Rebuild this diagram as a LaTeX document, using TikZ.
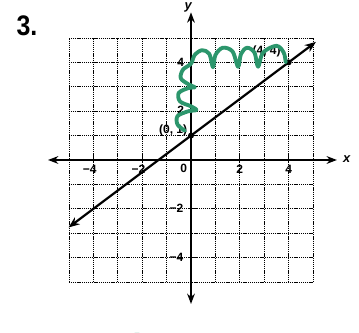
\documentclass[tikz,border=0pt]{standalone}
\usepackage{fontspec}
\setmainfont{Liberation Sans}
\usetikzlibrary{arrows.meta}
\definecolor{hlgreen}{RGB}{44,150,108}
\begin{document}
\begin{tikzpicture}[x=1cm,y=1cm,
  gridline/.style={black, line width=1.1pt, dash pattern=on 1.3pt off 0.9pt},
  axisline/.style={black, line width=2pt, {Stealth[length=12pt,width=9pt]}-{Stealth[length=12pt,width=9pt]}},
  graphline/.style={black, line width=2.6pt, {Stealth[length=13pt,width=10pt]}-{Stealth[length=13pt,width=10pt]}},
  tickmark/.style={black, line width=1.4pt},
  ticklabel/.style={font=\bfseries\fontsize{14}{14}\selectfont, inner sep=0pt},
  ptlabel/.style={font=\bfseries\fontsize{14}{14}\selectfont, inner sep=0pt},
  dot/.style={circle, fill=black, inner sep=0pt, minimum size=7pt},
  squiggle/.style={hlgreen, line width=4.5pt, line cap=round, line join=round}
]
\useasboundingbox (-7.828,-7.090) rectangle (6.885,6.557);

% number
\node[font=\bfseries\fontsize{33}{33}\selectfont, xscale=0.88] (num) at (-6.72,5.52) {3.};

% grid
\foreach \i in {-5,...,5} {
  \draw[gridline] (\i,-5) -- (\i,5);
  \draw[gridline] (-5,\i) -- (5,\i);
}

% axes
\coordinate (xl) at (-5.86,0);
\coordinate (xr) at (5.98,0);
\coordinate (yb) at (0,-5.9);
\coordinate (yt) at (0,6.05);
\draw[axisline] (xl) -- (xr);
\draw[axisline] (yb) -- (yt);
\node[font=\bfseries\itshape\fontsize{15}{15}\selectfont] (xlab) at (6.38,0.02) {x};
\node[font=\bfseries\itshape\fontsize{15}{15}\selectfont, anchor=north] (ylab) at (-0.12,6.55) {y};

% ticks
\foreach \i in {-4,-2,2,4} {
  \draw[tickmark] (\i,-0.12) -- (\i,0.12);
  \draw[tickmark] (-0.12,\i) -- (0.12,\i);
}

% tick labels
\node[ticklabel] (tx-4) at (-4.15,-0.38) {−4};
\node[ticklabel] (tx-2) at (-2.15,-0.38) {−2};
\node[ticklabel] (tx0) at (-0.3,-0.33) {0};
\node[ticklabel] (tx2) at (2,-0.38) {2};
\node[ticklabel] (tx4) at (4,-0.38) {4};
\node[ticklabel] (ty4) at (-0.42,4.02) {4};
\node[ticklabel] (ty2) at (-0.42,2.02) {2};
\node[ticklabel] (ty-2) at (-0.6,-1.98) {−2};
\node[ticklabel] (ty-4) at (-0.6,-3.98) {−4};

% line y = 3/4 x + 1
\coordinate (la) at (-5.02,-2.765);
\coordinate (lb) at (5.12,4.84);
\draw[graphline] (la) -- (lb);
\node[dot] (p01) at (0,1) {};
\node[dot] (p44) at (4,4) {};

% point labels
\node[ptlabel, anchor=east] (l01) at (-0.15,1.2) {(0, 1)};
\node[ptlabel] (l44) at (3.1,4.45) {(4, 4)};

% green squiggle
\draw[squiggle] plot[smooth, tension=0.55] coordinates {
  (-0.25,1.2) (-0.55,1.45) (-0.55,1.8) (-0.1,2.0) (0.22,2.05) (0.0,2.2)
  (-0.45,2.4) (-0.5,2.75) (-0.1,2.95) (0.15,2.98) (-0.1,3.1)
  (-0.42,3.35) (-0.33,3.7) (0.0,3.95) (0.15,4.3) (0.45,4.5) (0.75,4.35)
  (0.9,3.8) (1.0,4.3) (1.3,4.6) (1.7,4.45) (1.93,3.82) (2.05,4.35)
  (2.3,4.6) (2.6,4.4) (2.75,3.82) (2.95,4.4) (3.5,4.68) (3.8,4.4) (3.88,4.0)};

% green bits at the bottom edge
\draw[squiggle] (-2.6,-7.4) .. controls (-2.45,-7.12) and (-2.15,-7.12) .. (-2.0,-7.22);
\draw[squiggle] (4.62,-7.4) .. controls (4.68,-7.18) and (4.78,-7.18) .. (4.84,-7.35);
\end{tikzpicture}
\end{document}
